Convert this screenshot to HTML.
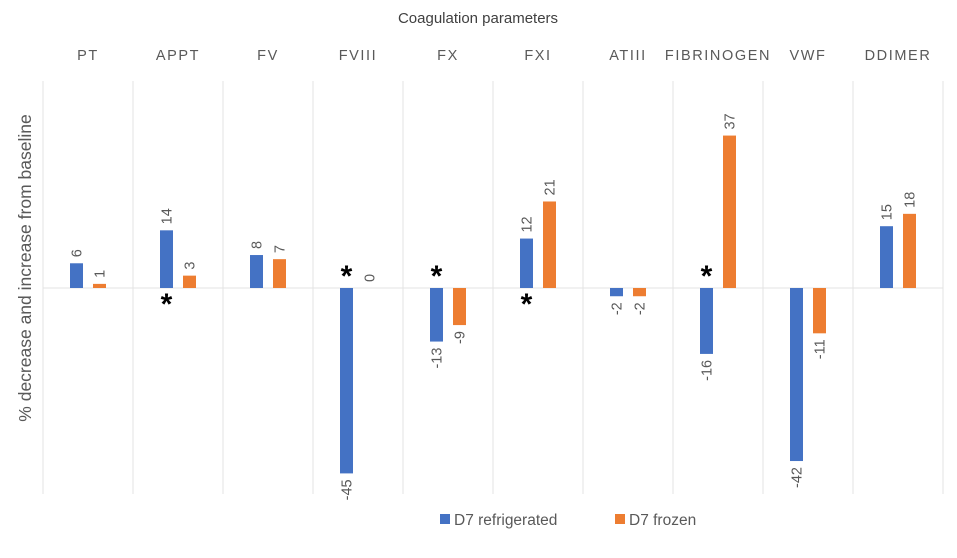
<!DOCTYPE html>
<html><head><meta charset="utf-8"><style>
body{margin:0;background:#fff;}
svg text{font-family:"Liberation Sans",sans-serif;fill:#595959;}
</style></head><body>
<svg id="chart" width="957" height="553">
<text x="478" y="23" text-anchor="middle" font-size="15" style="fill:#404040">Coagulation parameters</text>
<text transform="translate(31,268) rotate(-90)" text-anchor="middle" font-size="17.5">% decrease and increase from baseline</text>
<g id="plot"></g>
<g>
<rect x="440" y="514" width="10" height="10" fill="#4472c4"/>
<text x="454" y="525" font-size="15.5">D7 refrigerated</text>
<rect x="615" y="514" width="10" height="10" fill="#ed7d31"/>
<text x="629" y="525" font-size="15.5">D7 frozen</text>
</g>
</svg>
<script>
const categories=["PT","APPT","FV","FVIII","FX","FXI","ATIII","FIBRINOGEN","VWF","DDIMER"];
const refrigerated=[6,14,8,-45,-13,12,-2,-16,-42,15];
const frozen=[1,3,7,0,-9,21,-2,37,-11,18];
const asterisks=["","below","","above","above","below","","above","",""];
const NS="http://www.w3.org/2000/svg";
const g=document.getElementById("plot");
const x0=43,cw=90,y0=288,k=4.12;
function yv(v){return y0-v*k;}
function mk(t,a){const e=document.createElementNS(NS,t);for(const n in a)e.setAttribute(n,a[n]);g.appendChild(e);return e;}
for(let i=0;i<=categories.length;i++){
 const l=mk("line",{x1:x0+i*cw,x2:x0+i*cw,y1:81,y2:494,stroke:"#e3e3e3","stroke-width":1});
 
 
}
const z=mk("line",{x1:x0,x2:x0+cw*categories.length,y1:y0,y2:y0,stroke:"#e3e3e3","stroke-width":1});


categories.forEach((c,i)=>{
 const cx=x0+i*cw+cw/2;
 const t=mk("text",{x:cx,y:60,"text-anchor":"middle","font-size":"14.5","letter-spacing":"1.6"});
 t.textContent=c;
 
 
 [[refrigerated[i],cx-18,"#4472c4","refrigerated"],[frozen[i],cx+5,"#ed7d31","frozen"]].forEach(([v,bx,col,s])=>{
  const top=Math.min(yv(v),y0),h=Math.abs(yv(v)-y0);
  const r=mk("rect",{x:bx,y:top,width:13,height:h,fill:col});
  
  
  const lx=bx+6.5+5, ly=v>=0?top-6:top+h+6;
  const lt=mk("text",{transform:`translate(${lx},${ly}) rotate(-90)`,"text-anchor":v>=0?"start":"end","font-size":"14.5"});
  lt.textContent=v;
  
  
 });
 if(asterisks[i]){
  const ay=asterisks[i]==="above"?Math.min(yv(refrigerated[i]),y0)-2:y0+26;
  const a=mk("text",{x:cx-11.5,y:ay,"text-anchor":"middle","font-size":"30","font-weight":"bold",style:"fill:#000"});
  a.textContent="*";
  
  
 }
});
</script>
</body></html>
